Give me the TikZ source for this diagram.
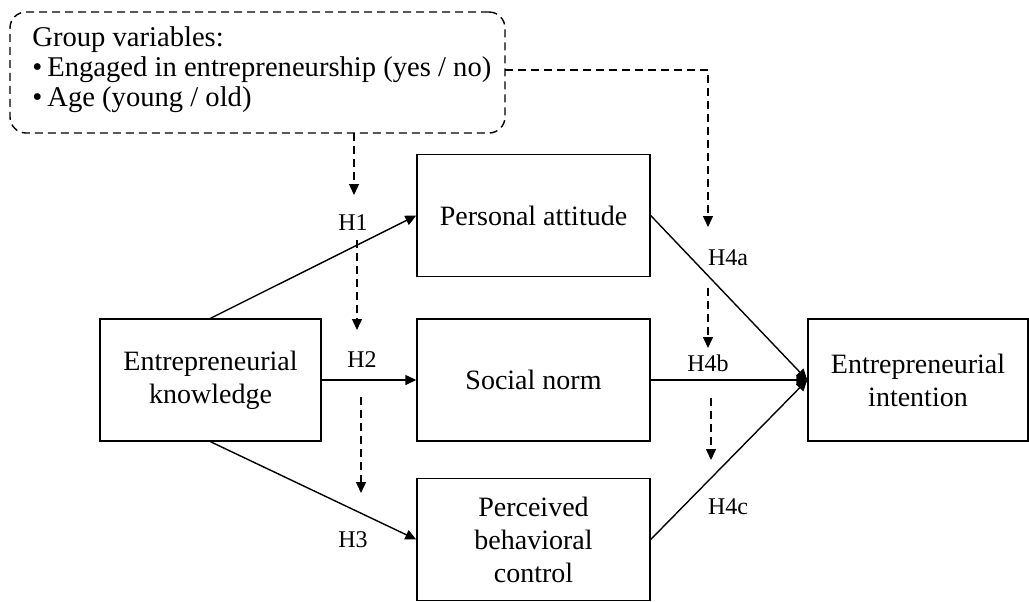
\documentclass[tikz,border=0pt]{standalone}
\usepackage{fontspec}
\setmainfont{Liberation Serif}
\usetikzlibrary{arrows.meta}
\begin{document}
\begin{tikzpicture}[x=0.5pt,y=-0.5pt,
  box/.style={draw,line width=0.7pt,minimum width=116.5pt,minimum height=61pt,inner sep=0pt,align=center,font=\fontsize{14}{16.5}\selectfont},
  arr/.style={line width=0.7pt,-{Triangle[length=5.5pt,width=5pt]}},
  darr/.style={line width=0.7pt,dash pattern=on 4pt off 2.5pt,-{Triangle[length=5.5pt,width=5pt]}},
  dline/.style={line width=0.7pt,dash pattern=on 4pt off 2.5pt},
  lab/.style={font=\fontsize{12}{14}\selectfont,inner sep=0pt}]
\useasboundingbox (0,0) rectangle (1029,601);
% group variables box
\node[draw,line width=0.7pt,dash pattern=on 4pt off 2.5pt,rounded corners=8pt,minimum width=247.5pt,minimum height=60.5pt,inner sep=0pt] (gv) at (257.5,72.5) {};
\node[anchor=west,inner sep=0pt,align=left,font=\fontsize{14.3}{15}\selectfont] (gvt) at (32,70) {Group variables:\\ •\hspace{2.5pt}Engaged in entrepreneurship (yes / no)\\ •\hspace{2.5pt}Age (young / old)};
% main boxes
\node[box] (PA) at (533.5,215.5) {Personal attitude};
\node[box] (SN) at (533.5,380) {Social norm};
\node[box] (PBC) at (533.5,539.5) {Perceived\\behavioral\\control};
\node[box,minimum width=110.5pt] (EK) at (210.5,380) {Entrepreneurial\\knowledge};
\node[box,minimum width=110pt] (EI) at (918,380) {Entrepreneurial\\intention};
% solid paths
\draw[arr] (EK.north) -- (PA.west);
\draw[arr] (EK.east) -- (SN.west);
\draw[arr] (EK.south) -- (PBC.west);
\draw[arr] (PA.east) -- (EI.west);
\draw[arr] (SN.east) -- (EI.west);
\draw[arr] (PBC.east) -- (EI.west);
% dashed moderation arrows
\coordinate (d1a) at (354,133);
\coordinate (d1b) at (354,195);
\coordinate (d2a) at (357,240);
\coordinate (d2b) at (357,330);
\coordinate (d3a) at (361,397);
\coordinate (d3b) at (361,493);
\coordinate (d4a) at (505,70);
\coordinate (d4c) at (708,70);
\coordinate (d4b) at (708,227);
\coordinate (d5a) at (708,288);
\coordinate (d5b) at (708,348);
\coordinate (d6a) at (711,398);
\coordinate (d6b) at (711,460);
\draw[darr] (d1a) -- (d1b);
\draw[darr] (d2a) -- (d2b);
\draw[darr] (d3a) -- (d3b);
\draw[darr] (d4a) -- (d4c) -- (d4b);
\draw[darr] (d5a) -- (d5b);
\draw[darr] (d6a) -- (d6b);
% labels
\node[lab] (H1) at (353,223) {H1};
\node[lab] (H2) at (362,360) {H2};
\node[lab] (H3) at (353,540) {H3};
\node[lab] (H4a) at (728,258) {H4a};
\node[lab] (H4b) at (708,363) {H4b};
\node[lab] (H4c) at (728,507) {H4c};
\end{tikzpicture}
\end{document}
